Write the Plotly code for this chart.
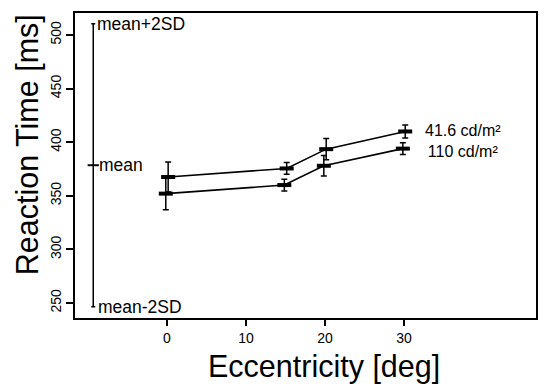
import plotly.graph_objects as go

# Data
eccentricity = [0, 15, 20, 30]
rt_41 = [367.5, 375.5, 393.5, 410]
err_41 = [14, 5.5, 10, 6]
rt_110 = [352, 360, 378, 394]
err_110 = [15, 5.5, 9.5, 5.5]
series_labels = ["41.6 cd/m²", "110 cd/m²"]
dodge = 0.15

ref_mean = 378.5
ref_sd = 66
ref_x = -9.33

FONT = "Liberation Sans, Arial, sans-serif"

fig = go.Figure()

for xs, ys, es, d in [(eccentricity, rt_41, err_41, dodge), (eccentricity, rt_110, err_110, -dodge)]:
    fig.add_trace(go.Scatter(
        x=[x + d for x in xs], y=ys, mode="lines+markers",
        line=dict(color="black", width=1.6),
        marker=dict(symbol="line-ew", size=10, color="black",
                    line=dict(color="black", width=4)),
        error_y=dict(type="data", array=es, visible=True, color="black",
                     thickness=1.5, width=3),
        showlegend=False, hoverinfo="skip"))

# mean +/- 2SD reference bar
fig.add_trace(go.Scatter(
    x=[ref_x], y=[ref_mean], mode="markers",
    marker=dict(symbol="line-ew", size=8, color="black",
                line=dict(color="black", width=2)),
    error_y=dict(type="data", array=[2 * ref_sd], visible=True, color="black",
                 thickness=1.5, width=2),
    showlegend=False, hoverinfo="skip"))

AF = dict(size=17.5, color="black", family=FONT)
ann = []
ann.append(dict(x=-9.15, y=ref_mean + 2 * ref_sd, text="mean+2SD", xanchor="left", yanchor="middle",
                showarrow=False, font=AF))
ann.append(dict(x=-8.85, y=ref_mean, text="mean", xanchor="left", yanchor="middle",
                showarrow=False, font=AF))
ann.append(dict(x=-9.0, y=ref_mean - 2 * ref_sd, text="mean-2SD", xanchor="left", yanchor="middle",
                showarrow=False, font=AF))
ann.append(dict(x=37.4, y=(rt_41[-1] + rt_110[-1]) / 2 - 1,
                text=series_labels[0] + "<br>" + series_labels[1], align="center",
                xanchor="center", yanchor="middle", showarrow=False,
                font=dict(size=16, color="black", family=FONT)))
# axis titles
ann.append(dict(xref="paper", yref="paper", x=(325 - 75) / 463, y=(318 - 366) / 305,
                text="Eccentricity [deg]", xanchor="center", yanchor="middle", showarrow=False,
                font=dict(size=30.5, color="black", family=FONT)))
ann.append(dict(xref="paper", yref="paper", x=(28 - 75) / 463, y=(318 - 145) / 305,
                text="Reaction Time [ms]", textangle=-90, xanchor="center", yanchor="middle",
                showarrow=False, font=dict(size=30.5, color="black", family=FONT)))

fig.update_layout(
    width=545, height=385,
    margin=dict(l=75, r=7, t=13, b=67),
    paper_bgcolor="white", plot_bgcolor="white",
    font=dict(family=FONT, color="black", size=14),
    annotations=ann,
    xaxis=dict(range=[-11.64, 46.7], tickvals=[0, 10, 20, 30], ticks="outside", ticklen=6,
               tickwidth=1.5, tickcolor="black", showgrid=False, zeroline=False,
               showline=True, linecolor="black", linewidth=1.5, mirror=True,
               tickfont=dict(size=14, family=FONT)),
    yaxis=dict(range=[236, 520.5], tickvals=[250, 300, 350, 400, 450, 500], ticks="outside",
               ticklen=7, tickwidth=1.5, tickcolor="black", showgrid=False, zeroline=False,
               showline=True, linecolor="black", linewidth=1.5, mirror=True, tickangle=-90,
               tickfont=dict(size=14, family=FONT)),
)

fig.write_html("out.html", config={"displayModeBar": False},
               post_script="document.body.style.margin='0';document.body.style.overflow='hidden';")
